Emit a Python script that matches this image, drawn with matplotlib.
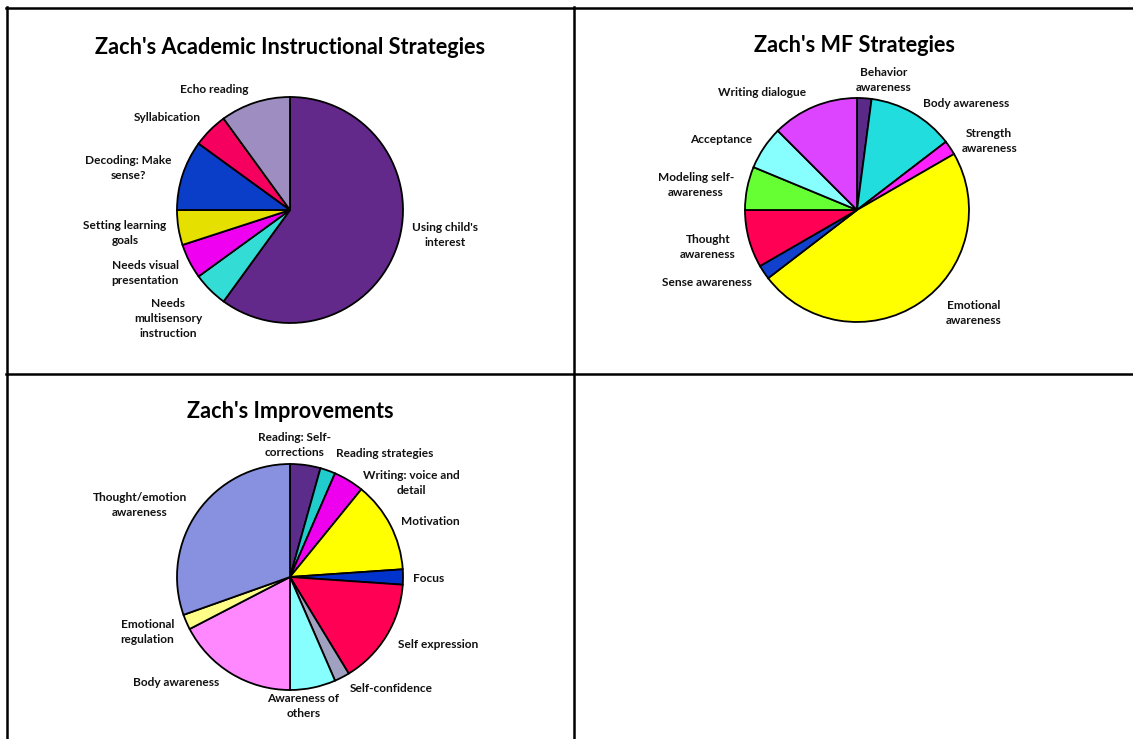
import matplotlib
matplotlib.use("Agg")
import matplotlib.pyplot as plt
from matplotlib.lines import Line2D

plt.rcParams['font.family'] = ['Lato', 'DejaVu Sans']
plt.rcParams['font.weight'] = 'bold'

W, H, DPI = 1133, 739, 100

# ---------------- data ----------------
academic_labels = ["Using child's\ninterest", "Needs\nmultisensory\ninstruction",
                   "Needs visual\npresentation", "Setting learning\ngoals",
                   "Decoding: Make\nsense?", "Syllabication", "Echo reading"]
academic_values = [12, 1, 1, 1, 2, 1, 2]
academic_colors = ["#62298A", "#33DDD5", "#F000F0", "#E6E000", "#0A3DC8", "#F5005F", "#9D8DC0"]

mf_labels = ["Behavior\nawareness", "Body awareness", "Strength\nawareness",
             "Emotional\nawareness", "Sense awareness", "Thought\nawareness",
             "Modeling self-\nawareness", "Acceptance", "Writing dialogue"]
mf_values = [1, 6, 1, 23, 1, 4, 3, 3, 6]
mf_colors = ["#5A2A88", "#22DDDD", "#FF20FF", "#FFFF00", "#1040CC", "#FF0055",
             "#66FF33", "#88FFFF", "#DD44FF"]

imp_labels = ["Reading: Self-\ncorrections", "Reading strategies", "Writing: voice and\ndetail",
              "Motivation", "Focus", "Self expression", "Self-confidence",
              "Awareness of\nothers", "Body awareness", "Emotional\nregulation",
              "Thought/emotion\nawareness"]
imp_values = [2, 1, 2, 6, 1, 7, 1, 3, 8, 1, 14]
imp_colors = ["#5B2C8A", "#20CCCC", "#EE00EE", "#FFFF00", "#0033CC", "#FF0055",
              "#A0A0C0", "#88FFFF", "#FF88FF", "#FFFF88", "#8890E0"]

# ---------------- layout (label positions in pie-radius units) ----------------
academic_label_pos = [(1.37, -0.22), (-1.08, -0.96), (-1.28, -0.56), (-1.46, -0.20),
                      (-1.43, 0.37), (-1.09, 0.82), (-0.67, 1.07)]
mf_label_pos = [(0.24, 1.16), (0.97, 0.95), (1.18, 0.62), (1.04, -0.92), (-1.34, -0.65),
                (-1.33, -0.33), (-1.44, 0.22), (-1.21, 0.63), (-0.85, 1.05)]
imp_label_pos = [(0.04, 1.17), (0.84, 1.09), (1.07, 0.83), (1.24, 0.49), (1.23, -0.01),
                 (1.31, -0.60), (0.90, -0.99), (0.12, -1.14), (-1.01, -0.93),
                 (-1.26, -0.49), (-1.33, 0.64)]

fig = plt.figure(figsize=(W / DPI, H / DPI), dpi=DPI)
fig.patch.set_facecolor("white")


def draw_pie(cx, cy, r, values, colors, labels, label_pos, title, tx, ty):
    k = 2.0
    ax = fig.add_axes([(cx - k * r) / W, 1 - (cy + k * r) / H, 2 * k * r / W, 2 * k * r / H])
    ax.pie(values, colors=colors, startangle=90, counterclock=False, radius=1.0,
           wedgeprops=dict(edgecolor="black", linewidth=1.3))
    ax.set_xlim(-k, k)
    ax.set_ylim(-k, k)
    ax.set_aspect("equal")
    ax.axis("off")
    for lab, (lx, ly) in zip(labels, label_pos):
        ax.text(lx, ly, lab, ha="center", va="center", fontsize=8.6,
                fontweight="bold", color="#111111", linespacing=1.45)
    fig.text(tx / W, 1 - ty / H, title, ha="center", va="center", fontsize=15.6,
             fontweight="bold", color="black")


draw_pie(290, 210, 113, academic_values, academic_colors, academic_labels,
         academic_label_pos, "Zach's Academic Instructional Strategies", 290, 47)
draw_pie(857, 210, 112, mf_values, mf_colors, mf_labels,
         mf_label_pos, "Zach's MF Strategies", 855, 46)
draw_pie(290, 577, 113, imp_values, imp_colors, imp_labels,
         imp_label_pos, "Zach's Improvements", 290, 412)

# table grid lines
def hline(y, x0, x1):
    fig.add_artist(Line2D([x0 / W, x1 / W], [1 - y / H, 1 - y / H], color="black",
                          linewidth=1.8, transform=fig.transFigure))

def vline(x, y0, y1):
    fig.add_artist(Line2D([x / W, x / W], [1 - y0 / H, 1 - y1 / H], color="black",
                          linewidth=1.8, transform=fig.transFigure))

hline(7.5, 6, W)
hline(374, 6, W)
vline(6.5, 7, H)
vline(574, 7, H)

fig.savefig("out.png", dpi=DPI)
